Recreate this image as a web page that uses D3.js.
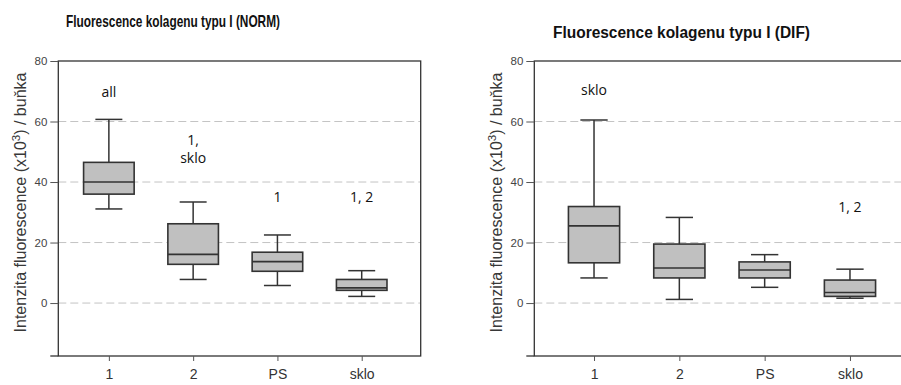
<!DOCTYPE html>
<html>
<head>
<meta charset="utf-8">
<script src="https://cdn.jsdelivr.net/npm/d3@7"></script>
<style>
  body { margin: 0; background: #fff; }
  svg { display: block; }
</style>
</head>
<body>
<svg id="chart" width="901" height="385"></svg>
<script>
// categories + box stats
const categories = ["1", "2", "PS", "sklo"];
const yTicks = [0, 20, 40, 60, 80];

const normMin = [31.1, 7.8, 5.8, 2.2];
const normQ1  = [36.0, 12.8, 10.5, 4.2];
const normMed = [40.0, 16.1, 13.7, 5.0];
const normQ3  = [46.5, 26.2, 16.8, 7.8];
const normMax = [60.7, 33.4, 22.5, 10.7];
const normNotes = [["all"], ["1,", "sklo"], ["1"], ["1, 2"]];
const normNoteY = [68.2, 52.4, 33.4, 33.4];

const difMin = [8.3, 1.2, 5.2, 1.6];
const difQ1  = [13.3, 8.3, 8.3, 2.2];
const difMed = [25.5, 11.6, 10.9, 3.5];
const difQ3  = [31.9, 19.5, 13.6, 7.6];
const difMax = [60.5, 28.3, 16.0, 11.2];
const difNotes = [["sklo"], [], [], ["1, 2"]];
const difNoteY = [68.7, 0, 0, 30.1];

const svg = d3.select('#chart');

function drawPanel(p) {
  const g = svg.append('g');
  const x = d3.scaleLinear().domain(p.xDomain).range([p.left, p.right]);
  const y = d3.scaleLinear().domain([-17.5, 80]).range([356, 61]);
  const boxW = x(1.6) - x(1);
  const capW = x(1.16) - x(1);

  // dashed grid
  g.selectAll('line.grid').data(yTicks.slice(0, -1)).enter().append('line')
    .attr('x1', p.left).attr('x2', p.right)
    .attr('y1', d => y(d)).attr('y2', d => y(d))
    .attr('stroke', '#c4c4c4').attr('stroke-width', 1)
    .attr('stroke-dasharray', '8,4');

  // frame
  g.append('rect')
    .attr('x', p.left).attr('y', y(80))
    .attr('width', p.right - p.left).attr('height', y(-17.5) - y(80))
    .attr('fill', 'none').attr('stroke', '#333').attr('stroke-width', 1.3);
  g.append('line')
    .attr('x1', p.left - 8).attr('x2', p.left)
    .attr('y1', y(-17.5)).attr('y2', y(-17.5))
    .attr('stroke', '#333').attr('stroke-width', 1.3);

  // y axis
  const yAxis = d3.axisLeft(y).tickValues(yTicks).tickSize(8).tickPadding(3);
  const ya = g.append('g').attr('transform', `translate(${p.left},0)`).call(yAxis);
  ya.select('.domain').remove();
  ya.selectAll('line').attr('stroke', '#555');
  ya.selectAll('text').attr('font-family', 'Liberation Sans, Arial, sans-serif')
    .attr('font-size', 11.5).attr('fill', '#444');

  // x axis
  const xAxis = d3.axisBottom(x).tickValues([1, 2, 3, 4])
    .tickFormat((d, i) => categories[i]).tickSize(5).tickPadding(8);
  const xa = g.append('g').attr('transform', `translate(0,${y(-17.5)})`).call(xAxis);
  xa.select('.domain').remove();
  xa.selectAll('line').attr('stroke', '#555');
  xa.selectAll('text').attr('font-family', 'Liberation Sans, Arial, sans-serif')
    .attr('font-size', 14).attr('fill', '#333');

  // boxes
  const idx = d3.range(categories.length);
  const b = g.selectAll('g.box').data(idx).enter().append('g');
  const stroke = '#333';
  b.append('line')
    .attr('x1', i => x(i + 1)).attr('x2', i => x(i + 1))
    .attr('y1', i => y(p.max[i])).attr('y2', i => y(p.min[i]))
    .attr('stroke', stroke).attr('stroke-width', 1.5);
  ['min', 'max'].forEach(k => {
    b.append('line')
      .attr('x1', i => x(i + 1) - capW).attr('x2', i => x(i + 1) + capW)
      .attr('y1', i => y(p[k][i])).attr('y2', i => y(p[k][i]))
      .attr('stroke', stroke).attr('stroke-width', 1.5);
  });
  b.append('rect')
    .attr('x', i => x(i + 1) - boxW / 2).attr('width', boxW)
    .attr('y', i => y(p.q3[i])).attr('height', i => y(p.q1[i]) - y(p.q3[i]))
    .attr('fill', '#c0c0c0').attr('stroke', stroke).attr('stroke-width', 1.6);
  b.append('line')
    .attr('x1', i => x(i + 1) - boxW / 2).attr('x2', i => x(i + 1) + boxW / 2)
    .attr('y1', i => y(p.med[i])).attr('y2', i => y(p.med[i]))
    .attr('stroke', stroke).attr('stroke-width', 1.6);

  // significance notes (one text per line)
  b.each(function (i) {
    p.notes[i].forEach((s, j) => {
      d3.select(this).append('text')
        .attr('x', x(i + 1)).attr('y', y(p.noteY[i]) + j * 18)
        .attr('text-anchor', 'middle')
        .attr('font-family', 'Open Sans, sans-serif').attr('font-size', 14)
        .attr('fill', '#111')
        .text(s);
    });
  });

  // title
  svg.append('text')
    .attr('x', p.titleX).attr('y', p.titleY)
    .attr('font-family', 'Liberation Sans, Arial, sans-serif').attr('font-weight', 'bold')
    .attr('font-size', p.titleSize).attr('fill', '#111')
    .attr('textLength', p.titleLen).attr('lengthAdjust', 'spacingAndGlyphs')
    .text(p.title);

  // y label
  const yl = svg.append('text')
    .attr('transform', `translate(${p.left - 32},${(y(80) + y(-17.5)) / 2 - 6}) rotate(-90)`)
    .attr('text-anchor', 'middle')
    .attr('font-family', 'Liberation Sans, Arial, sans-serif').attr('font-size', 16)
    .attr('fill', '#383838');
  yl.append('tspan').text('Intenzita fluorescence (x10');
  yl.append('tspan').attr('font-size', 11.5).attr('dy', -6).text('3');
  yl.append('tspan').attr('dy', 6).text(') / buňka');
}

drawPanel({
  left: 58.3, right: 420.7, xDomain: [0.4, 4.7],
  min: normMin, q1: normQ1, med: normMed, q3: normQ3, max: normMax,
  notes: normNotes, noteY: normNoteY,
  title: 'Fluorescence kolagenu typu I (NORM)', titleX: 66, titleY: 27, titleSize: 17, titleLen: 214
});

drawPanel({
  left: 534.3, right: 909.7, xDomain: [0.3, 4.7],
  min: difMin, q1: difQ1, med: difMed, q3: difQ3, max: difMax,
  notes: difNotes, noteY: difNoteY,
  title: 'Fluorescence kolagenu typu I (DIF)', titleX: 553, titleY: 38, titleSize: 16, titleLen: 257
});
</script>
</body>
</html>
